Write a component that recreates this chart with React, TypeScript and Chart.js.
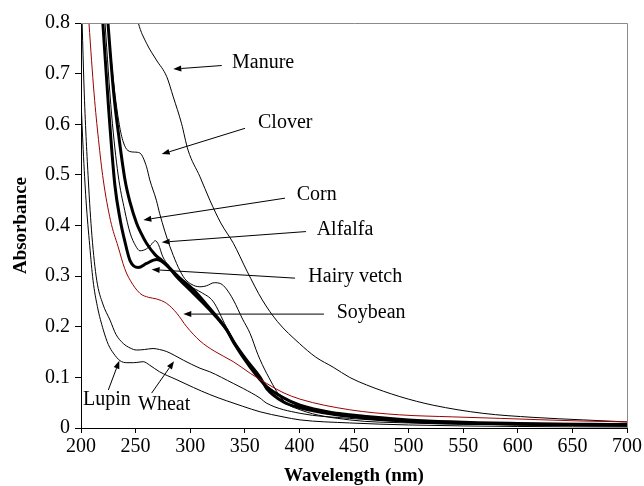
import React, { useEffect, useRef } from "react";
import { Chart, registerables } from "chart.js";

Chart.register(...registerables);

// ---------- data (wavelength in nm, absorbance) ----------
const manureNm = [235, 245, 252.5, 260, 269, 278.5, 284.5, 292, 298, 309, 318, 328, 339.5, 352, 366, 380, 400, 415, 431, 446, 461.6, 492, 522.6, 568, 614, 660, 700];
const manureAbs = [1.0, 0.88, 0.8, 0.76, 0.727, 0.694, 0.654, 0.602, 0.549, 0.496, 0.45, 0.405, 0.365, 0.31, 0.253, 0.21, 0.167, 0.14, 0.12, 0.1, 0.085, 0.062, 0.045, 0.029, 0.021, 0.016, 0.012];

const cloverNm = [218, 224.7, 230, 235, 238.7, 243, 249, 254, 260, 263, 269, 272, 281.5, 293.7, 302.8, 310, 315, 322, 328, 333, 339.5, 348, 354.8, 362, 370, 385, 400.6, 446, 500, 600, 700];
const cloverAbs = [1.0, 0.8, 0.68, 0.6, 0.565, 0.548, 0.545, 0.543, 0.516, 0.49, 0.45, 0.424, 0.358, 0.299, 0.282, 0.279, 0.281, 0.287, 0.285, 0.275, 0.253, 0.215, 0.187, 0.145, 0.108, 0.055, 0.036, 0.016, 0.01, 0.006, 0.004];

const cornNm = [218, 224.7, 230, 235, 240.3, 245, 251, 255, 260, 268, 273, 280, 290, 303, 318, 333.4, 340, 355, 370, 385, 400.6, 431, 446, 500, 600, 700];
const cornAbs = [1.0, 0.8, 0.66, 0.57, 0.49, 0.445, 0.404, 0.385, 0.365, 0.342, 0.333, 0.318, 0.297, 0.273, 0.236, 0.194, 0.168, 0.12, 0.082, 0.06, 0.045, 0.03, 0.026, 0.016, 0.009, 0.007];

const alfalfaNm = [216, 222, 228, 234, 240, 245, 250, 254, 260, 265, 268, 271, 275, 285, 300, 310, 321, 333, 348.6, 364, 385, 400.6, 446, 500, 600, 700];
const alfalfaAbs = [1.0, 0.8, 0.62, 0.5, 0.43, 0.385, 0.36, 0.35, 0.354, 0.364, 0.37, 0.362, 0.338, 0.31, 0.28, 0.268, 0.25, 0.2, 0.141, 0.095, 0.062, 0.042, 0.022, 0.013, 0.007, 0.005];

const vetchNm = [214, 220, 225, 231, 236, 240, 245, 252.5, 260, 269, 278.5, 287.6, 303, 318, 333.4, 340, 351.7, 364, 370, 385, 400.6, 431, 446, 500, 600, 700];
const vetchAbs = [1.0, 0.8, 0.64, 0.48, 0.41, 0.37, 0.33, 0.317, 0.325, 0.333, 0.322, 0.299, 0.266, 0.233, 0.194, 0.17, 0.134, 0.1, 0.078, 0.052, 0.04, 0.027, 0.023, 0.013, 0.008, 0.006];

const soybeanNm = [203, 207.3, 212, 216, 220.4, 227, 234, 240, 245, 254, 262, 269, 278.5, 287.6, 296.8, 309, 322, 339.5, 355, 370, 385, 400.6, 446, 492, 540, 584, 655, 700];
const soybeanAbs = [0.95, 0.8, 0.66, 0.57, 0.49, 0.41, 0.358, 0.315, 0.292, 0.266, 0.258, 0.255, 0.246, 0.227, 0.2, 0.172, 0.152, 0.131, 0.108, 0.088, 0.07, 0.057, 0.036, 0.026, 0.022, 0.019, 0.014, 0.012];

const wheatNm = [200, 203, 206.7, 210, 214.4, 220, 226.6, 232, 238.7, 245, 251, 258, 266, 272, 278.5, 286, 293.7, 309, 318, 339.5, 348.6, 364, 370, 400.6, 446, 500, 600, 700];
const wheatAbs = [0.88, 0.66, 0.49, 0.38, 0.292, 0.245, 0.213, 0.185, 0.167, 0.158, 0.154, 0.155, 0.157, 0.155, 0.151, 0.143, 0.134, 0.118, 0.111, 0.088, 0.078, 0.059, 0.049, 0.029, 0.019, 0.012, 0.006, 0.004];

const lupinNm = [200, 202, 204.6, 208, 211, 215, 220.4, 225, 229.6, 235.7, 242, 248, 253, 257, 263, 272, 287, 303, 318, 333, 348, 364, 385, 400.6, 446, 500, 600, 700];
const lupinAbs = [0.648, 0.55, 0.45, 0.36, 0.292, 0.24, 0.194, 0.165, 0.148, 0.133, 0.129, 0.129, 0.13, 0.131, 0.124, 0.111, 0.096, 0.08, 0.066, 0.054, 0.043, 0.032, 0.022, 0.016, 0.01, 0.006, 0.003, 0.002];

// ---------- annotation labels (data units) ----------
const labelText = ["Manure", "Clover", "Corn", "Alfalfa", "Hairy vetch", "Soybean", "Lupin", "Wheat"];
const labelNm = [338.3, 362.1, 397.5, 415.8, 408.2, 434.2, 201.8, 252.2];
const labelAbs = [0.721, 0.602, 0.46, 0.391, 0.298, 0.227, 0.055, 0.045];
const arrowFromNm = [328.9, 350.2, 386.8, 406, 396, 422.5, 225, 264.7];
const arrowFromAbs = [0.716, 0.592, 0.454, 0.388, 0.296, 0.225, 0.075, 0.069];
const arrowToNm = [284.5, 273.9, 257.1, 273.9, 264.7, 293.7, 235.1, 285.2];
const arrowToAbs = [0.709, 0.541, 0.411, 0.367, 0.313, 0.225, 0.133, 0.132];

const xTitle = "Wavelength (nm)";
const yTitle = "Absorbance";

const FONT = '"Liberation Serif", "Times New Roman", serif';

function pts(xs: number[], ys: number[]) {
  return xs.map((x, i) => ({ x, y: ys[i] }));
}

const annotPlugin = {
  id: "annot",
  afterDraw(chart: any) {
    const { ctx, chartArea, scales } = chart;
    const xs = scales.x;
    const ys = scales.y;
    ctx.save();
    // frame top & right
    ctx.strokeStyle = "#8a8a8a";
    ctx.lineWidth = 1;
    ctx.beginPath();
    ctx.moveTo(chartArea.left, chartArea.top + 0.5);
    ctx.lineTo(chartArea.right + 0.5, chartArea.top + 0.5);
    ctx.lineTo(chartArea.right + 0.5, chartArea.bottom);
    ctx.stroke();

    // arrows & labels
    ctx.fillStyle = "#000";
    ctx.strokeStyle = "#000";
    ctx.font = `20px ${FONT}`;
    ctx.textBaseline = "middle";
    ctx.textAlign = "left";
    for (let i = 0; i < labelText.length; i++) {
      ctx.fillText(labelText[i], xs.getPixelForValue(labelNm[i]), ys.getPixelForValue(labelAbs[i]));
      const x1 = xs.getPixelForValue(arrowFromNm[i]);
      const y1 = ys.getPixelForValue(arrowFromAbs[i]);
      const x2 = xs.getPixelForValue(arrowToNm[i]);
      const y2 = ys.getPixelForValue(arrowToAbs[i]);
      const ang = Math.atan2(y2 - y1, x2 - x1);
      const L = 8, W = 3;
      const bx = x2 - L * Math.cos(ang);
      const by = y2 - L * Math.sin(ang);
      ctx.lineWidth = 1;
      ctx.beginPath();
      ctx.moveTo(x1, y1);
      ctx.lineTo(bx, by);
      ctx.stroke();
      ctx.beginPath();
      ctx.moveTo(x2, y2);
      ctx.lineTo(bx + W * Math.sin(ang), by - W * Math.cos(ang));
      ctx.lineTo(bx - W * Math.sin(ang), by + W * Math.cos(ang));
      ctx.closePath();
      ctx.fill();
    }

    // axis titles
    ctx.font = `bold 19px ${FONT}`;
    ctx.textAlign = "center";
    ctx.textBaseline = "middle";
    ctx.fillText(xTitle, (chartArea.left + chartArea.right) / 2, 476);
    ctx.save();
    ctx.translate(21.5, (chartArea.top + chartArea.bottom) / 2);
    ctx.rotate(-Math.PI / 2);
    ctx.fillText(yTitle, 0, 0);
    ctx.restore();
    ctx.restore();
  },
};

export default function App() {
  const ref = useRef<HTMLCanvasElement>(null);
  useEffect(() => {
    if (!ref.current) return;
    const thin = (label: string, xs: number[], ys: number[], color = "#000") => ({
      label,
      data: pts(xs, ys),
      borderColor: color,
      borderWidth: 1,
      pointRadius: 0,
      cubicInterpolationMode: "monotone" as const,
      fill: false,
    });
    const thick = (label: string, xs: number[], ys: number[]) => ({
      ...thin(label, xs, ys),
      borderWidth: 3,
    });
    const chart = new Chart(ref.current, {
      type: "line",
      data: {
        datasets: [
          thin("Lupin", lupinNm, lupinAbs),
          thin("Wheat", wheatNm, wheatAbs),
          thin("Soybean", soybeanNm, soybeanAbs, "#9b0000"),
          thin("Manure", manureNm, manureAbs),
          thin("Clover", cloverNm, cloverAbs),
          thin("Alfalfa", alfalfaNm, alfalfaAbs),
          thick("Hairy vetch", vetchNm, vetchAbs),
          thick("Corn", cornNm, cornAbs),
        ],
      },
      options: {
        responsive: false,
        animation: false,
        devicePixelRatio: 1,
        layout: { padding: { left: 0, right: 17, top: 23, bottom: 0 } },
        plugins: { legend: { display: false }, tooltip: { enabled: false } },
        scales: {
          x: {
            type: "linear",
            min: 200,
            max: 700,
            ticks: {
              stepSize: 50,
              color: "#000",
              font: { family: FONT, size: 20 },
              padding: 2,
              maxRotation: 0,
              autoSkip: false,
            },
            grid: { drawOnChartArea: false, drawTicks: true, tickLength: 5, color: "#000" },
            border: { display: true, color: "#000", width: 1 },
            afterFit: (s: any) => {
              s.height = 58;
            },
          },
          y: {
            type: "linear",
            min: 0,
            max: 0.8,
            ticks: {
              stepSize: 0.1,
              color: "#000",
              font: { family: FONT, size: 20 },
              padding: 5,
              callback: (v: any) => (Math.abs(v) < 1e-9 ? "0" : Number(v).toFixed(1)),
            },
            grid: { drawOnChartArea: false, drawTicks: true, tickLength: 6, color: "#000" },
            border: { display: true, color: "#000", width: 1 },
            afterFit: (s: any) => {
              s.width = 81;
            },
          },
        },
      },
      plugins: [annotPlugin],
    });
    return () => chart.destroy();
  }, []);
  return (
    <div style={{ position: "absolute", left: 0, top: 0, width: 644, height: 486, background: "#fff" }}>
      <canvas ref={ref} width={644} height={486} style={{ width: 644, height: 486, display: "block" }} />
    </div>
  );
}
